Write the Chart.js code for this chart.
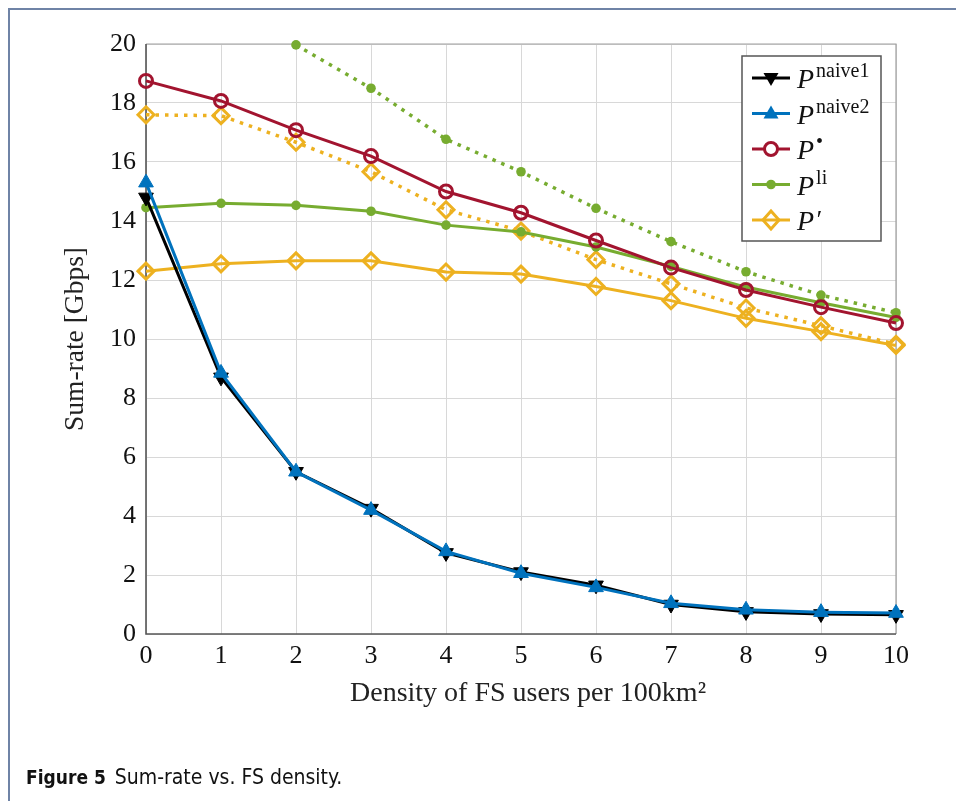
<!DOCTYPE html>
<html>
<head>
<meta charset="utf-8">
<script src="https://cdn.jsdelivr.net/npm/chart.js@4.4.1/dist/chart.umd.min.js"></script>
<style>
    body { margin: 0; background: #fff; }
    #wrap { position: relative; width: 956px; height: 801px; overflow: hidden; }
    #frame { position: absolute; left: 8px; top: 8px; width: 1000px; height: 900px;
             border-left: 2px solid #6f83a6; border-top: 2px solid #6f83a6; }
    #sumRateChart { position: absolute; left: 0; top: 0; }
    #caption { position: absolute; left: 26px; top: 765px; font-family: "DejaVu Sans Condensed", "DejaVu Sans", sans-serif;
               font-size: 21px; color: #111; }
    #caption b { font-size: 19px; margin-right: 9px; }
</style>
</head>
<body>
<div id="wrap">
    <div id="frame"></div>
    <canvas id="sumRateChart" width="956" height="801"></canvas>
    <div id="caption"><b>Figure 5</b>Sum-rate vs. FS density.</div>
</div>
<script>
// Data
const density = [0, 1, 2, 3, 4, 5, 6, 7, 8, 9, 10];
const naive1 = [14.8, 8.7, 5.5, 4.25, 2.75, 2.1, 1.65, 1.0, 0.75, 0.68, 0.65];
const naive2 = [15.3, 8.85, 5.5, 4.2, 2.8, 2.06, 1.58, 1.04, 0.82, 0.74, 0.71];
const pBullet = [18.75, 18.07, 17.08, 16.2, 15.0, 14.28, 13.34, 12.42, 11.66, 11.08, 10.54];
const pLi = [14.45, 14.6, 14.53, 14.33, 13.86, 13.63, 13.12, 12.46, 11.76, 11.23, 10.73];
const pLiDotted = [null, null, 19.97, 18.5, 16.77, 15.67, 14.43, 13.3, 12.28, 11.49, 10.89];
const pPrime = [12.3, 12.55, 12.65, 12.65, 12.27, 12.2, 11.78, 11.3, 10.7, 10.25, 9.78];
const pPrimeDotted = [17.6, 17.57, 16.67, 15.67, 14.38, 13.66, 12.69, 11.87, 11.05, 10.45, 9.82];

// Legend entries: base letter + superscript
const legendNames = [
    { sup: 'naive1', marker: 'down', color: '#000000' },
    { sup: 'naive2', marker: 'up', color: '#0072BD' },
    { sup: '\u2022', marker: 'circle', color: '#A2142F' },
    { sup: 'li', marker: 'dot', color: '#77AC30' },
    { sup: '\u2032', marker: 'diamond', color: '#EDB120' }
];

function pts(values) {
    return density.map((x, i) => ({ x: x, y: values[i] }));
}

const serif = '"Liberation Serif", "Times New Roman", serif';

// draw a legend marker by hand
function drawMarker(ctx, kind, color, x, y) {
    ctx.save();
    ctx.strokeStyle = color;
    ctx.fillStyle = color;
    ctx.lineWidth = 3;
    ctx.beginPath();
    if (kind === 'down') {
        ctx.moveTo(x - 7.5, y - 5); ctx.lineTo(x + 7.5, y - 5); ctx.lineTo(x, y + 8); ctx.closePath(); ctx.fill();
    } else if (kind === 'up') {
        ctx.moveTo(x - 7.5, y + 5); ctx.lineTo(x + 7.5, y + 5); ctx.lineTo(x, y - 8); ctx.closePath(); ctx.fill();
    } else if (kind === 'circle') {
        ctx.arc(x, y, 6.5, 0, Math.PI * 2); ctx.fillStyle = '#fff'; ctx.fill(); ctx.stroke();
    } else if (kind === 'dot') {
        ctx.arc(x, y, 4.8, 0, Math.PI * 2); ctx.fill();
    } else if (kind === 'diamond') {
        ctx.moveTo(x, y - 9); ctx.lineTo(x + 8, y); ctx.lineTo(x, y + 9); ctx.lineTo(x - 8, y); ctx.closePath(); ctx.stroke();
    }
    ctx.restore();
}

const framePlugin = {
    id: 'framePlugin',
    beforeDatasetsDraw(chart) {
        const { ctx, chartArea: a } = chart;
        ctx.save();
        ctx.strokeStyle = '#a0a0a0';
        ctx.lineWidth = 1.2;
        ctx.beginPath();
        ctx.moveTo(a.left, a.top); ctx.lineTo(a.right, a.top); ctx.lineTo(a.right, a.bottom);
        ctx.stroke();
        ctx.strokeStyle = '#555';
        ctx.lineWidth = 1.6;
        ctx.beginPath();
        ctx.moveTo(a.left, a.top); ctx.lineTo(a.left, a.bottom); ctx.lineTo(a.right, a.bottom);
        ctx.stroke();
        ctx.restore();
    },
    afterDraw(chart) {
        const ctx = chart.ctx;
        const bx = 742, by = 56, bw = 139, bh = 185;
        ctx.save();
        ctx.fillStyle = '#fff';
        ctx.fillRect(bx, by, bw, bh);
        ctx.strokeStyle = '#555';
        ctx.lineWidth = 1.5;
        ctx.strokeRect(bx, by, bw, bh);
        legendNames.forEach((item, i) => {
            const y = 78 + i * 35.5;
            ctx.strokeStyle = item.color;
            ctx.lineWidth = 3;
            ctx.beginPath();
            ctx.moveTo(752, y); ctx.lineTo(790, y);
            ctx.stroke();
            drawMarker(ctx, item.marker, item.color, 771, y);
            ctx.fillStyle = '#111';
            ctx.textBaseline = 'alphabetic';
            ctx.font = 'italic 28px ' + serif;
            ctx.fillText('P', 797, y + 10);
            const pw = ctx.measureText('P').width;
            if (item.sup === '\u2032') {
                ctx.font = 'italic 26px ' + serif;
                ctx.fillText('\u2032', 797 + pw + 1, y + 8);
            } else {
                ctx.font = '20px ' + serif;
                ctx.fillText(item.sup, 797 + pw + 2, y - 1);
            }
        });
        ctx.restore();
    }
};

const ctx = document.getElementById('sumRateChart').getContext('2d');
const sumRateChart = new Chart(ctx, {
    type: 'line',
    data: {
        datasets: [
            {
                label: 'P naive1',
                data: pts(naive1),
                borderColor: '#000000',
                backgroundColor: '#000000',
                borderWidth: 3,
                pointStyle: 'triangle',
                rotation: 180,
                pointRadius: 8.5,
                pointBorderWidth: 1,
                order: 2
            },
            {
                label: 'P naive2',
                data: pts(naive2),
                borderColor: '#0072BD',
                backgroundColor: '#0072BD',
                borderWidth: 3,
                pointStyle: 'triangle',
                pointRadius: 8.5,
                pointBorderWidth: 1,
                order: 1
            },
            {
                label: 'P bullet',
                data: pts(pBullet),
                borderColor: '#A2142F',
                backgroundColor: 'rgba(255,255,255,0)',
                borderWidth: 3,
                pointStyle: 'circle',
                pointRadius: 6.5,
                pointBorderWidth: 3,
                order: 3
            },
            {
                label: 'P li',
                data: pts(pLi),
                borderColor: '#77AC30',
                backgroundColor: '#77AC30',
                borderWidth: 3,
                pointStyle: 'circle',
                pointRadius: 4.8,
                pointBorderWidth: 0,
                order: 4
            },
            {
                label: 'P li (dotted)',
                data: pts(pLiDotted),
                borderColor: '#77AC30',
                backgroundColor: '#77AC30',
                borderWidth: 3.5,
                borderDash: [3.5, 6],
                pointStyle: 'circle',
                pointRadius: 4.8,
                pointBorderWidth: 0,
                spanGaps: false,
                order: 6
            },
            {
                label: "P'",
                data: pts(pPrime),
                borderColor: '#EDB120',
                backgroundColor: 'rgba(255,255,255,0)',
                borderWidth: 3,
                pointStyle: 'rectRot',
                pointRadius: 8,
                pointBorderWidth: 3,
                order: 5
            },
            {
                label: "P' (dotted)",
                data: pts(pPrimeDotted),
                borderColor: '#EDB120',
                backgroundColor: 'rgba(255,255,255,0)',
                borderWidth: 3.5,
                borderDash: [3.5, 6],
                pointStyle: 'rectRot',
                pointRadius: 8,
                pointBorderWidth: 3,
                order: 7
            }
        ]
    },
    options: {
        responsive: false,
        animation: false,
        clip: false,
        layout: { padding: { left: 0, right: 60, top: 44, bottom: 0 } },
        plugins: {
            legend: { display: false },
            tooltip: { enabled: false }
        },
        scales: {
            x: {
                type: 'linear',
                min: 0,
                max: 10,
                afterFit: (s) => { s.height = 167; },
                border: { display: false },
                grid: { color: '#d8d8d8', lineWidth: 1, drawTicks: false },
                ticks: {
                    stepSize: 1,
                    padding: 7,
                    color: '#111',
                    font: { family: serif, size: 26 }
                },
                title: {
                    display: true,
                    text: '\u2002Density of FS users per 100km\u00b2',
                    color: '#222',
                    font: { family: serif, size: 28 },
                    padding: { top: 0, bottom: 91 }
                }
            },
            y: {
                min: 0,
                max: 20,
                afterFit: (s) => { s.width = 146; },
                border: { display: false },
                grid: { color: '#d8d8d8', lineWidth: 1, drawTicks: false },
                ticks: {
                    stepSize: 2,
                    padding: 10,
                    color: '#111',
                    font: { family: serif, size: 26 }
                },
                title: {
                    display: true,
                    text: 'Sum-rate [Gbps]',
                    color: '#222',
                    font: { family: serif, size: 27.5 },
                    padding: { top: 59, bottom: 0 }
                }
            }
        }
    },
    plugins: [framePlugin]
});
</script>
</body>
</html>
